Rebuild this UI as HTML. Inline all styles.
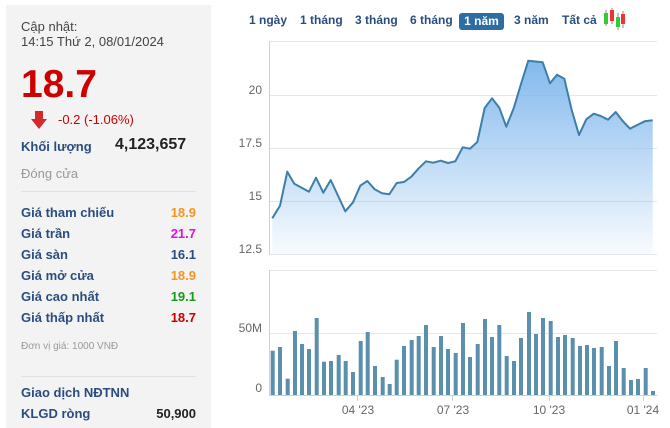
<!DOCTYPE html><html><head><meta charset="utf-8"><style>
body{margin:0;width:670px;height:428px;background:#fff;font-family:"Liberation Sans",Arial,sans-serif;position:relative;overflow:hidden}
.p{position:absolute;white-space:nowrap}
.l{left:21px;font-size:13px;color:#2a4d7f;font-weight:bold}
.r{right:calc(670px - 196px);font-size:13px;font-weight:bold}
</style></head><body>
<div style="position:absolute;left:6px;top:5px;width:205px;height:423px;background:#f3f3f3"></div>
<div class="p" style="left:21px;top:19px;font-size:13px;color:#444;line-height:15px">Cập nhật:<br>14:15 Thứ 2, 08/01/2024</div>
<div class="p" style="left:21px;top:63px;font-size:39px;font-weight:bold;color:#cc0000;line-height:44px">18.7</div>
<svg class="p" style="left:31px;top:111px" width="16" height="18"><polygon points="4,0 12,0 12,8 16,8 8,18 0,8 4,8" fill="#d42a2a"/></svg>
<div class="p" style="left:58px;top:112px;font-size:13px;color:#c00">-0.2 (-1.06%)</div>
<div class="p l" style="top:139px">Khối lượng</div>
<div class="p" style="left:115px;top:136px;font-size:16px;font-weight:bold;color:#222">4,123,657</div>
<div class="p" style="left:21px;top:166px;font-size:13px;color:#999">Đóng cửa</div>
<div style="position:absolute;left:21px;top:191px;width:175px;height:1px;background:#e2e2e2"></div>
<div class="p l" style="top:205px">Giá tham chiếu</div><div class="p r" style="top:205px;color:#f7941d">18.9</div>
<div class="p l" style="top:226px">Giá trần</div><div class="p r" style="top:226px;color:#e010e0">21.7</div>
<div class="p l" style="top:247px">Giá sàn</div><div class="p r" style="top:247px;color:#2a4d7f">16.1</div>
<div class="p l" style="top:268px">Giá mở cửa</div><div class="p r" style="top:268px;color:#f7941d">18.9</div>
<div class="p l" style="top:289px">Giá cao nhất</div><div class="p r" style="top:289px;color:#1a9a1a">19.1</div>
<div class="p l" style="top:310px">Giá thấp nhất</div><div class="p r" style="top:310px;color:#cc0000">18.7</div>
<div class="p" style="left:21px;top:341px;font-size:10px;color:#999">Đơn vị giá: 1000 VNĐ</div>
<div style="position:absolute;left:21px;top:376px;width:175px;height:1px;background:#e2e2e2"></div>
<div class="p l" style="top:385px">Giao dịch NĐTNN</div>
<div class="p l" style="top:406px">KLGD ròng</div><div class="p" style="right:474px;top:406px;font-size:13px;font-weight:bold;color:#222">50,900</div>

<div class="p" style="left:249px;top:13px;font-size:12px;font-weight:bold;color:#2a4d7f">1 ngày</div>
<div class="p" style="left:300px;top:13px;font-size:12px;font-weight:bold;color:#2a4d7f">1 tháng</div>
<div class="p" style="left:355px;top:13px;font-size:12px;font-weight:bold;color:#2a4d7f">3 tháng</div>
<div class="p" style="left:410px;top:13px;font-size:12px;font-weight:bold;color:#2a4d7f">6 tháng</div>
<div class="p" style="left:459px;top:13px;width:45px;height:17px;background:#2e6da4;border-radius:3px;color:#fff;font-size:12px;font-weight:bold;text-align:center;line-height:17px">1 năm</div>
<div class="p" style="left:514px;top:13px;font-size:12px;font-weight:bold;color:#2a4d7f">3 năm</div>
<div class="p" style="left:562px;top:13px;font-size:12px;font-weight:bold;color:#2a4d7f">Tất cả</div>
<svg class="p" style="left:602px;top:8px" width="24" height="22">
<line x1="4" y1="2" x2="4" y2="18" stroke="#888"/><rect x="2" y="5" width="4" height="11" fill="#3c3"/>
<line x1="10" y1="0" x2="10" y2="16" stroke="#888"/><rect x="8" y="2" width="4" height="11" fill="#e33"/>
<line x1="16" y1="5" x2="16" y2="22" stroke="#888"/><rect x="14" y="9" width="4" height="10" fill="#3c3"/>
<line x1="21" y1="3" x2="21" y2="20" stroke="#888"/><rect x="19" y="6" width="4" height="10" fill="#e33"/>
</svg>

<svg style="position:absolute;left:0;top:0" width="670" height="428" font-family="Liberation Sans, Arial, sans-serif">
<defs><linearGradient id="g" x1="0" y1="0" x2="0" y2="1"><stop offset="0" stop-color="#7cb5ec" stop-opacity="0.95"/><stop offset="1" stop-color="#7cb5ec" stop-opacity="0.05"/></linearGradient></defs>
<g stroke="#e3e6ea" stroke-width="1">
<line x1="269" y1="41.5" x2="657" y2="41.5"/><line x1="269" y1="95.5" x2="657" y2="95.5"/><line x1="269" y1="148.5" x2="657" y2="148.5"/><line x1="269" y1="201.5" x2="657" y2="201.5"/><line x1="269" y1="254.5" x2="657" y2="254.5"/>
<line x1="269" y1="270.5" x2="657" y2="270.5"/><line x1="269" y1="333.5" x2="657" y2="333.5"/>
</g>
<line x1="269.5" y1="41" x2="269.5" y2="255" stroke="#c8d2e0"/>
<line x1="269.5" y1="270" x2="269.5" y2="396" stroke="#c8d2e0"/>
<line x1="269" y1="395.5" x2="657" y2="395.5" stroke="#c8d2e0"/>
<g font-size="12" fill="#666" text-anchor="end">
<text x="262" y="94">20</text><text x="262" y="147">17.5</text><text x="262" y="200">15</text><text x="262" y="253">12.5</text>
<text x="262" y="332">50M</text><text x="262" y="392">0</text></g>
<polygon fill="url(#g)" points="272.3,254 272.3,218.3 280,205.7 287.3,171.7 294.3,183.7 309,191.7 316,177.7 323.3,192.7 330.7,180 345.3,211.3 353,202.3 360.3,185.7 367.3,181 374.7,189.3 382,193.3 389.3,194.3 396.7,183 404,182 411.3,176.7 418.7,168.3 426,161.3 433.3,162.7 440.7,160.7 448,163 455.3,161.3 462.7,147.3 470,148.7 477.3,142 484.7,108 492,98.3 499.3,107.7 506.3,126.7 513.7,108.3 521,84 528.3,60.7 542.7,62.3 550,83.3 557,74.7 564.3,78.7 571.7,110 579,135 586.3,119.3 593.7,113.7 600.7,116 608,119.7 615.7,112 622.7,121 630,128.7 637.3,125 644.7,121.3 652.7,120.3 652.7,254"/>
<polyline fill="none" stroke="#3d7eaa" stroke-width="2" stroke-linejoin="round" points="272.3,218.3 280,205.7 287.3,171.7 294.3,183.7 309,191.7 316,177.7 323.3,192.7 330.7,180 345.3,211.3 353,202.3 360.3,185.7 367.3,181 374.7,189.3 382,193.3 389.3,194.3 396.7,183 404,182 411.3,176.7 418.7,168.3 426,161.3 433.3,162.7 440.7,160.7 448,163 455.3,161.3 462.7,147.3 470,148.7 477.3,142 484.7,108 492,98.3 499.3,107.7 506.3,126.7 513.7,108.3 521,84 528.3,60.7 542.7,62.3 550,83.3 557,74.7 564.3,78.7 571.7,110 579,135 586.3,119.3 593.7,113.7 600.7,116 608,119.7 615.7,112 622.7,121 630,128.7 637.3,125 644.7,121.3 652.7,120.3"/>
<g fill="#5a8fad" id="bars"></g>
<g stroke="#c8d2e0"><line x1="357.5" y1="396" x2="357.5" y2="401"/><line x1="452.5" y1="396" x2="452.5" y2="401"/><line x1="549.5" y1="396" x2="549.5" y2="401"/><line x1="643.5" y1="396" x2="643.5" y2="401"/></g>
<g font-size="12" fill="#666" text-anchor="middle">
<text x="358" y="414">04 '23</text><text x="453" y="414">07 '23</text><text x="549" y="414">10 '23</text><text x="643" y="414">01 '24</text></g>
</svg>
<script>
var d=[[128,272],[150,261],[173,356],[195,213],[216,252],[237,267],[260,174],[282,305],[303,303],[326,285],[347,303],[369,336],[392,243],[413,216],[435,318],[458,351],[479,372],[500,299],[522,258],[545,240],[566,228],[588,195],[611,261],[633,228],[654,267],[677,279],[699,189],[720,291],[743,252],[765,177],[786,231],[808,195],[830,288],[852,303],[873,234],[897,156],[918,222],[939,174],[962,183],[984,231],[1005,225],[1028,234],[1050,258],[1071,255],[1092,264],[1115,261],[1137,318],[1158,243],[1181,324],[1203,360],[1224,357],[1247,324],[1269,393]];
var g=document.getElementById('bars'),s='';
d.forEach(function(p){var x=230+p[0]/3,t=260+p[1]/3;s+='<rect x="'+(x-2).toFixed(1)+'" y="'+t.toFixed(1)+'" width="4" height="'+(395-t).toFixed(1)+'"/>';});
g.innerHTML=s;
</script>
</body></html>
